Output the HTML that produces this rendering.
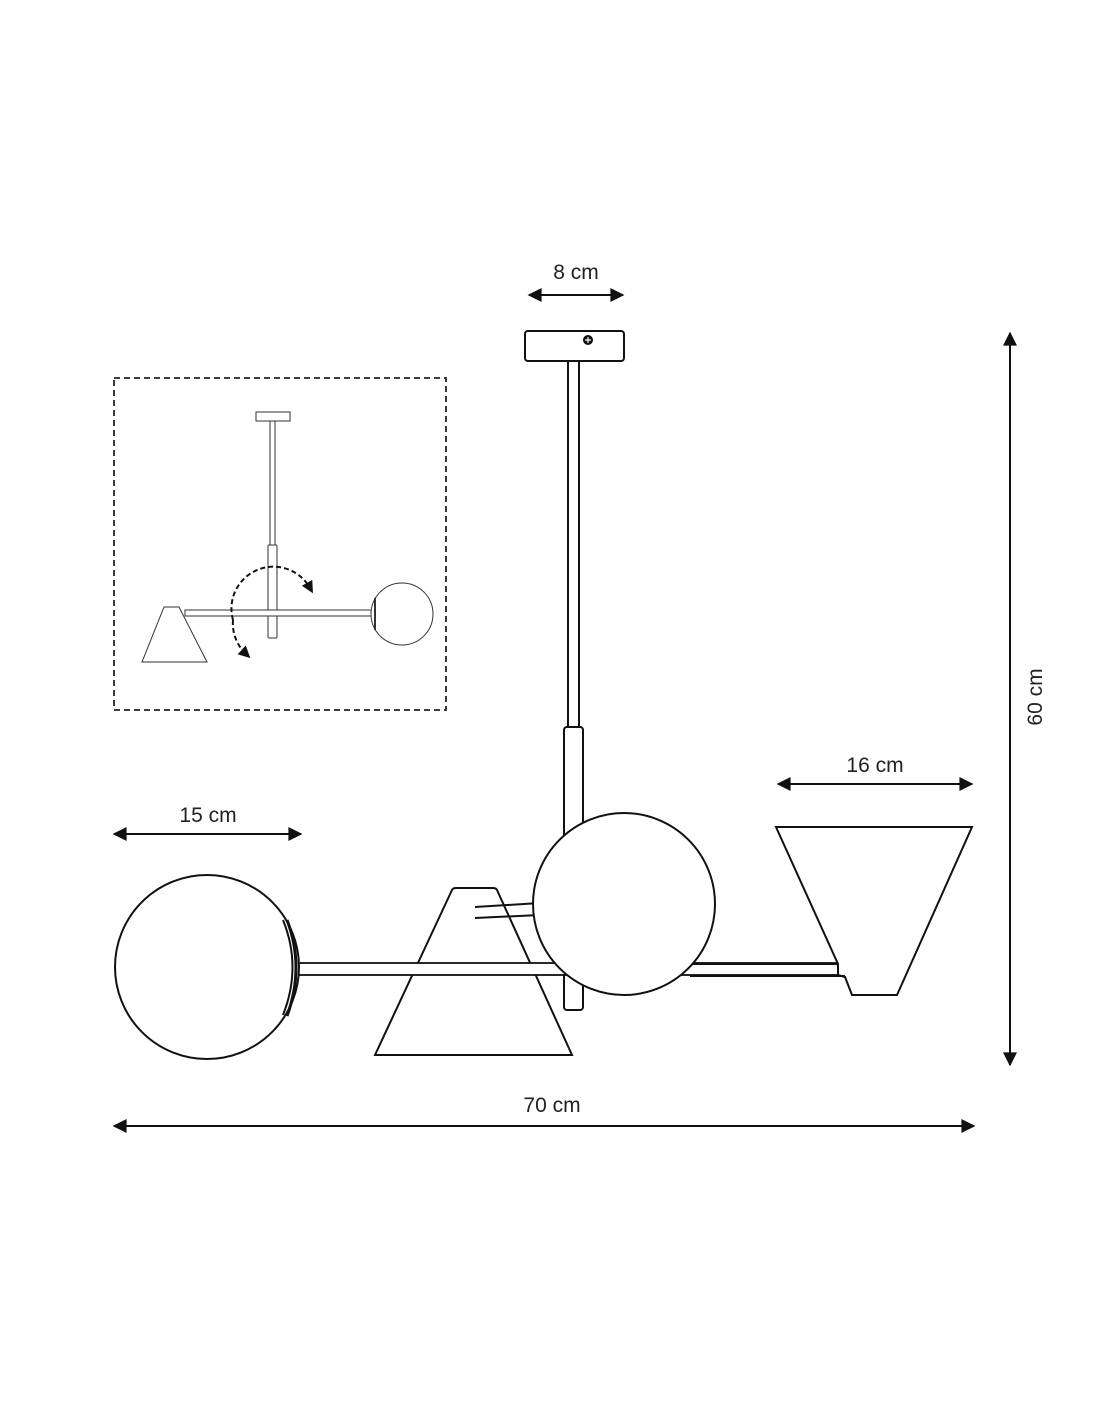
<!DOCTYPE html>
<html><head><meta charset="utf-8"><style>html,body{margin:0;padding:0;background:#fff}svg{display:block}text{font-family:"Liberation Sans",sans-serif;fill:#222}</style></head><body>
<svg width="1100" height="1422" viewBox="0 0 1100 1422" xmlns="http://www.w3.org/2000/svg">
<defs>
<marker id="a" viewBox="0 0 10 10" refX="9" refY="5" markerWidth="22" markerHeight="14" markerUnits="userSpaceOnUse" orient="auto-start-reverse"><path d="M0,0 L10,5 L0,10 z" fill="#111"/></marker>
<marker id="s" viewBox="0 0 10 10" refX="5" refY="5" markerWidth="12" markerHeight="12" markerUnits="userSpaceOnUse" orient="auto"><path d="M0,0 L10,5 L0,10 z" fill="#111"/></marker>
</defs>
<g stroke="#111" stroke-width="2" fill="none">
<line x1="529" y1="295" x2="623" y2="295" marker-start="url(#a)" marker-end="url(#a)"/>
<line x1="114" y1="834" x2="301" y2="834" marker-start="url(#a)" marker-end="url(#a)"/>
<line x1="778" y1="784" x2="972" y2="784" marker-start="url(#a)" marker-end="url(#a)"/>
<line x1="114" y1="1126" x2="974" y2="1126" marker-start="url(#a)" marker-end="url(#a)"/>
<line x1="1010" y1="333" x2="1010" y2="1065" marker-start="url(#a)" marker-end="url(#a)"/>
</g>
<text x="576" y="279" font-size="21" text-anchor="middle">8 cm</text>
<text x="208" y="822" font-size="21" text-anchor="middle">15 cm</text>
<text x="875" y="772" font-size="21" text-anchor="middle">16 cm</text>
<text x="552" y="1112" font-size="21" text-anchor="middle">70 cm</text>
<text x="0" y="0" font-size="21" text-anchor="middle" transform="translate(1042,697) rotate(-90)">60 cm</text>

<g stroke="#111" stroke-width="2" fill="#fff">
<rect x="525" y="331" width="99" height="30" rx="3"/>
<circle cx="588" cy="340" r="5" fill="#111" stroke="none"/>
<path d="M585,340 h6 M588,337 v6" stroke="#fff" stroke-width="1.2"/>
<rect x="568" y="361" width="11" height="366"/>
<rect x="564" y="727" width="19" height="283" rx="3"/>
<path d="M375,1055 L452,890 Q453,888 456,888 L493,888 Q496,888 497,890 L572,1055 Z"/>
<line x1="475" y1="907" x2="540" y2="903"/>
<line x1="475" y1="918" x2="540" y2="915"/>
<rect x="298" y="963" width="552" height="12" stroke-width="1.8"/>
<path d="M776,827 L972,827 L897,995 L852,995 L845,977 L838,975 L838,964 Z" />
<line x1="690" y1="964" x2="838" y2="964"/>
<line x1="690" y1="976" x2="845" y2="976"/>
<circle cx="624" cy="904" r="91"/>
<circle cx="207" cy="967" r="92"/>
<path d="M283,920 Q302,967 283,1015" fill="none"/>
<path d="M287,920 Q305,967 287,1016" fill="none" stroke-width="3"/>
</g>

<rect x="114" y="378" width="332" height="332" fill="none" stroke="#222" stroke-width="1.8" stroke-dasharray="6,4"/>
<g stroke="#333" stroke-width="1" fill="#fff">
<rect x="256" y="412" width="34" height="9"/>
<rect x="270" y="421" width="5" height="124"/>
<rect x="268" y="545" width="9" height="93" rx="1"/>
<path d="M142,662 L164,607 L179,607 L207,662 Z"/>
<rect x="185" y="610" width="187" height="6"/>
<circle cx="402" cy="614" r="31"/>
<line x1="375" y1="598" x2="375" y2="630" stroke-width="2"/>
</g>
<g stroke="#111" stroke-width="2" fill="none" stroke-dasharray="5,3">
<path d="M233,620 A42,42 0 0 1 310,588" marker-end="url(#s)"/>
<path d="M233,620 A42,42 0 0 0 246,654" marker-end="url(#s)"/>
</g>
</svg>
</body></html>
